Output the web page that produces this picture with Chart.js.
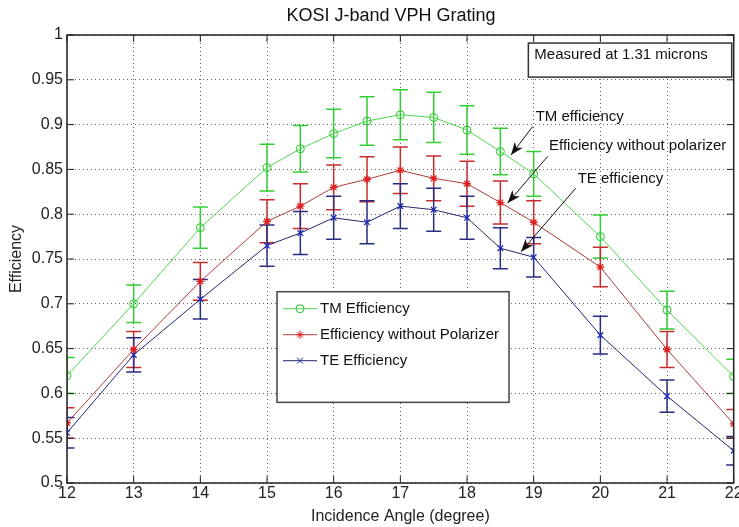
<!DOCTYPE html>
<html>
<head>
<meta charset="utf-8">
<script src="https://cdn.jsdelivr.net/npm/chart.js@4.4.1/dist/chart.umd.min.js"></script>
<style>
  html, body { margin: 0; padding: 0; background: #fff; }
  canvas { display: block; }
</style>
</head>
<body>
<canvas id="grafico" width="739" height="527"></canvas>
<script>
// datos
const angulos = [12, 13, 14, 15, 15.5, 16, 16.5, 17, 17.5, 18, 18.5, 19, 20, 21, 22];
const tm    = [0.620, 0.700, 0.785, 0.852, 0.873, 0.890, 0.904, 0.911, 0.908, 0.894, 0.870, 0.845, 0.775, 0.693, 0.619];
const tmErr = [0.020, 0.021, 0.023, 0.026, 0.026, 0.027, 0.027, 0.028, 0.028, 0.027, 0.026, 0.025, 0.024, 0.021, 0.019];
const sinPol    = [0.567, 0.649, 0.725, 0.792, 0.809, 0.830, 0.839, 0.849, 0.840, 0.834, 0.813, 0.791, 0.741, 0.649, 0.566];
const sinPolErr = [0.017, 0.020, 0.021, 0.024, 0.025, 0.025, 0.025, 0.026, 0.025, 0.025, 0.024, 0.024, 0.022, 0.020, 0.016];
const te    = [0.556, 0.643, 0.705, 0.765, 0.779, 0.796, 0.791, 0.809, 0.805, 0.796, 0.762, 0.752, 0.665, 0.597, 0.536];
const teErr = [0.017, 0.019, 0.022, 0.023, 0.024, 0.024, 0.024, 0.025, 0.024, 0.024, 0.023, 0.022, 0.021, 0.018, 0.016];

const xTicks = [12, 13, 14, 15, 16, 17, 18, 19, 20, 21, 22];
const yTicks = [0.5, 0.55, 0.6, 0.65, 0.7, 0.75, 0.8, 0.85, 0.9, 0.95, 1];

const titulo = 'KOSI J-band VPH Grating';
const nota = 'Measured at 1.31 microns';
const flechasTexto = ['TM efficiency', 'Efficiency without polarizer', 'TE efficiency'];

const fuente = "'Liberation Sans', Arial, sans-serif";
Chart.defaults.font.family = fuente;

const puntos = serie => angulos.map((a, i) => ({ x: a, y: serie[i] }));

// posiciones de anotaciones en unidades de datos
const anot = {
  caja: { x0: 18.92, y0: 0.991, x1: 21.97, y1: 0.953, tx: 19.01, ty: 0.978 },
  leyenda: { x0: 15.15, y0: 0.7135, x1: 18.63, y1: 0.59 },
  flechas: [
    { tx: 19.03, ty: 0.909, desde: [18.985, 0.898], hasta: [18.66, 0.866] },
    { tx: 19.23, ty: 0.876, desde: [19.21, 0.8645], hasta: [18.61, 0.8125] },
    { tx: 19.66, ty: 0.840, desde: [19.63, 0.829], hasta: [18.81, 0.758] }
  ]
};

function marcador(ctx, estilo, px, py, r) {
  ctx.beginPath();
  if (estilo === 'circle') {
    ctx.arc(px, py, r, 0, Math.PI * 2);
  } else if (estilo === 'star') {
    for (let k = 0; k < 4; k++) {
      const ang = k * Math.PI / 4;
      ctx.moveTo(px - r * Math.cos(ang), py - r * Math.sin(ang));
      ctx.lineTo(px + r * Math.cos(ang), py + r * Math.sin(ang));
    }
  } else {
    const d = r * 0.75;
    ctx.moveTo(px - d, py - d); ctx.lineTo(px + d, py + d);
    ctx.moveTo(px + d, py - d); ctx.lineTo(px - d, py + d);
  }
  ctx.stroke();
}

const extras = {
  id: 'extras',
  beforeDatasetsDraw(chart) {
    const { ctx, chartArea: a, scales: { x, y } } = chart;
    ctx.save();
    ctx.beginPath();
    ctx.rect(a.left, a.top, a.right - a.left, a.bottom - a.top);
    ctx.clip();
    chart.data.datasets.forEach(ds => {
      ctx.strokeStyle = ds.errColor;
      ctx.lineWidth = 1.5;
      ds.data.forEach((p, i) => {
        const px = x.getPixelForValue(p.x);
        const arriba = y.getPixelForValue(p.y + ds.err[i]);
        const abajo = y.getPixelForValue(p.y - ds.err[i]);
        ctx.beginPath();
        ctx.moveTo(px, arriba); ctx.lineTo(px, abajo);
        ctx.moveTo(px - 7.5, arriba); ctx.lineTo(px + 7.5, arriba);
        ctx.moveTo(px - 7.5, abajo); ctx.lineTo(px + 7.5, abajo);
        ctx.stroke();
      });
    });
    ctx.restore();
  },
  afterDraw(chart) {
    const { ctx, chartArea: a, scales: { x, y } } = chart;
    ctx.save();

    // marco y marcas hacia dentro
    ctx.strokeStyle = '#222';
    ctx.lineWidth = 1.5;
    ctx.strokeRect(a.left, a.top, a.right - a.left, a.bottom - a.top);
    ctx.lineWidth = 1;
    ctx.beginPath();
    x.ticks.forEach(t => {
      const px = x.getPixelForValue(t.value);
      ctx.moveTo(px, a.bottom); ctx.lineTo(px, a.bottom - 7);
      ctx.moveTo(px, a.top); ctx.lineTo(px, a.top + 7);
    });
    y.ticks.forEach(t => {
      const py = y.getPixelForValue(t.value);
      ctx.moveTo(a.left, py); ctx.lineTo(a.left + 7, py);
      ctx.moveTo(a.right, py); ctx.lineTo(a.right - 7, py);
    });
    ctx.stroke();

    // titulo
    ctx.fillStyle = '#111';
    ctx.font = '18px ' + fuente;
    ctx.textAlign = 'center';
    ctx.textBaseline = 'middle';
    ctx.fillText(titulo, 391, 16);

    // caja "Measured at..."
    const c = anot.caja;
    const cx0 = x.getPixelForValue(c.x0), cy0 = y.getPixelForValue(c.y0);
    const cx1 = x.getPixelForValue(c.x1), cy1 = y.getPixelForValue(c.y1);
    ctx.fillStyle = '#fff';
    ctx.fillRect(cx0, cy0, cx1 - cx0, cy1 - cy0);
    ctx.strokeStyle = '#333';
    ctx.lineWidth = 1.5;
    ctx.strokeRect(cx0, cy0, cx1 - cx0, cy1 - cy0);
    ctx.fillStyle = '#111';
    ctx.font = '15px ' + fuente;
    ctx.textAlign = 'left';
    ctx.fillText(nota, x.getPixelForValue(c.tx), y.getPixelForValue(c.ty));

    // flechas con texto
    anot.flechas.forEach((f, i) => {
      ctx.fillStyle = '#111';
      ctx.fillText(flechasTexto[i], x.getPixelForValue(f.tx), y.getPixelForValue(f.ty));
      const x0 = x.getPixelForValue(f.desde[0]), y0 = y.getPixelForValue(f.desde[1]);
      const x1 = x.getPixelForValue(f.hasta[0]), y1 = y.getPixelForValue(f.hasta[1]);
      const ang = Math.atan2(y1 - y0, x1 - x0);
      ctx.strokeStyle = '#111';
      ctx.lineWidth = 1;
      ctx.beginPath();
      ctx.moveTo(x0, y0); ctx.lineTo(x1, y1);
      ctx.stroke();
      const L = 13, W = 5;
      ctx.beginPath();
      ctx.moveTo(x1, y1);
      ctx.lineTo(x1 - L * Math.cos(ang) + W * Math.sin(ang), y1 - L * Math.sin(ang) - W * Math.cos(ang));
      ctx.lineTo(x1 - L * 0.7 * Math.cos(ang), y1 - L * 0.7 * Math.sin(ang));
      ctx.lineTo(x1 - L * Math.cos(ang) - W * Math.sin(ang), y1 - L * Math.sin(ang) + W * Math.cos(ang));
      ctx.closePath();
      ctx.fill();
    });

    // leyenda
    const l = anot.leyenda;
    const lx0 = x.getPixelForValue(l.x0), ly0 = y.getPixelForValue(l.y0);
    const lx1 = x.getPixelForValue(l.x1), ly1 = y.getPixelForValue(l.y1);
    ctx.fillStyle = '#fff';
    ctx.fillRect(lx0, ly0, lx1 - lx0, ly1 - ly0);
    ctx.strokeStyle = '#444';
    ctx.lineWidth = 1.5;
    ctx.strokeRect(lx0, ly0, lx1 - lx0, ly1 - ly0);
    chart.data.datasets.forEach((ds, i) => {
      const fy = ly0 + 17 + i * 26;
      ctx.strokeStyle = ds.borderColor;
      ctx.lineWidth = 1;
      ctx.beginPath();
      ctx.moveTo(lx0 + 6, fy); ctx.lineTo(lx0 + 40, fy);
      ctx.stroke();
      ctx.strokeStyle = ds.pointBorderColor;
      marcador(ctx, ds.pointStyle, lx0 + 23, fy, ds.pointRadius);
      ctx.fillStyle = '#111';
      ctx.textAlign = 'left';
      ctx.fillText(ds.label, lx0 + 43, fy);
    });

    ctx.restore();
  }
};

new Chart(document.getElementById('grafico'), {
  type: 'line',
  data: {
    datasets: [{
      label: 'TM Efficiency',
      data: puntos(tm),
      err: tmErr,
      errColor: 'rgb(50, 205, 50)',
      borderColor: 'rgb(80, 215, 80)',
      pointBorderColor: 'rgb(40, 200, 40)',
      backgroundColor: 'transparent',
      pointBackgroundColor: 'transparent',
      pointStyle: 'circle',
      pointRadius: 4,
      pointBorderWidth: 1,
      borderWidth: 1
    }, {
      label: 'Efficiency without Polarizer',
      data: puntos(sinPol),
      err: sinPolErr,
      errColor: 'rgb(200, 45, 45)',
      borderColor: 'rgb(175, 60, 60)',
      pointBorderColor: 'rgb(225, 30, 30)',
      backgroundColor: 'transparent',
      pointStyle: 'star',
      pointRadius: 4,
      pointBorderWidth: 1.3,
      borderWidth: 1
    }, {
      label: 'TE Efficiency',
      data: puntos(te),
      err: teErr,
      errColor: 'rgb(40, 45, 130)',
      borderColor: 'rgb(35, 40, 110)',
      pointBorderColor: 'rgb(30, 40, 190)',
      backgroundColor: 'transparent',
      pointStyle: 'crossRot',
      pointRadius: 4,
      pointBorderWidth: 1.3,
      borderWidth: 1
    }]
  },
  options: {
    responsive: false,
    animation: false,
    devicePixelRatio: 1,
    layout: { padding: { top: 35, right: 1, bottom: 0, left: 0 } },
    plugins: {
      legend: { display: false },
      tooltip: { enabled: false },
      title: { display: false }
    },
    scales: {
      x: {
        type: 'linear',
        min: 12,
        max: 22,
        afterBuildTicks: s => { s.ticks = xTicks.map(v => ({ value: v })); },
        ticks: { autoSkip: false, maxRotation: 0, padding: 1, color: '#222', font: { size: 16 } },
        grid: { color: 'rgba(0, 0, 0, 0.6)', drawTicks: false, lineWidth: 1 },
        border: { display: false, dash: [1, 3] },
        title: { display: true, text: 'Incidence Angle (degree)', color: '#222', font: { size: 16 }, padding: { top: 0, bottom: 1 } },
        afterFit: s => { s.height = 44; s.paddingLeft = 0; s.paddingRight = 0; }
      },
      y: {
        type: 'linear',
        min: 0.5,
        max: 1,
        afterBuildTicks: s => { s.ticks = yTicks.map(v => ({ value: v })); },
        ticks: { padding: 4, color: '#222', font: { size: 16 }, callback: v => String(v) },
        grid: { color: 'rgba(0, 0, 0, 0.6)', drawTicks: false, lineWidth: 1 },
        border: { display: false, dash: [1, 3] },
        title: { display: true, text: 'Efficiency', color: '#222', font: { size: 16 }, padding: { top: 7, bottom: 0 } },
        afterFit: s => { s.width = 67; s.paddingTop = 0; s.paddingBottom = 0; }
      }
    }
  },
  plugins: [extras]
});
</script>
</body>
</html>
